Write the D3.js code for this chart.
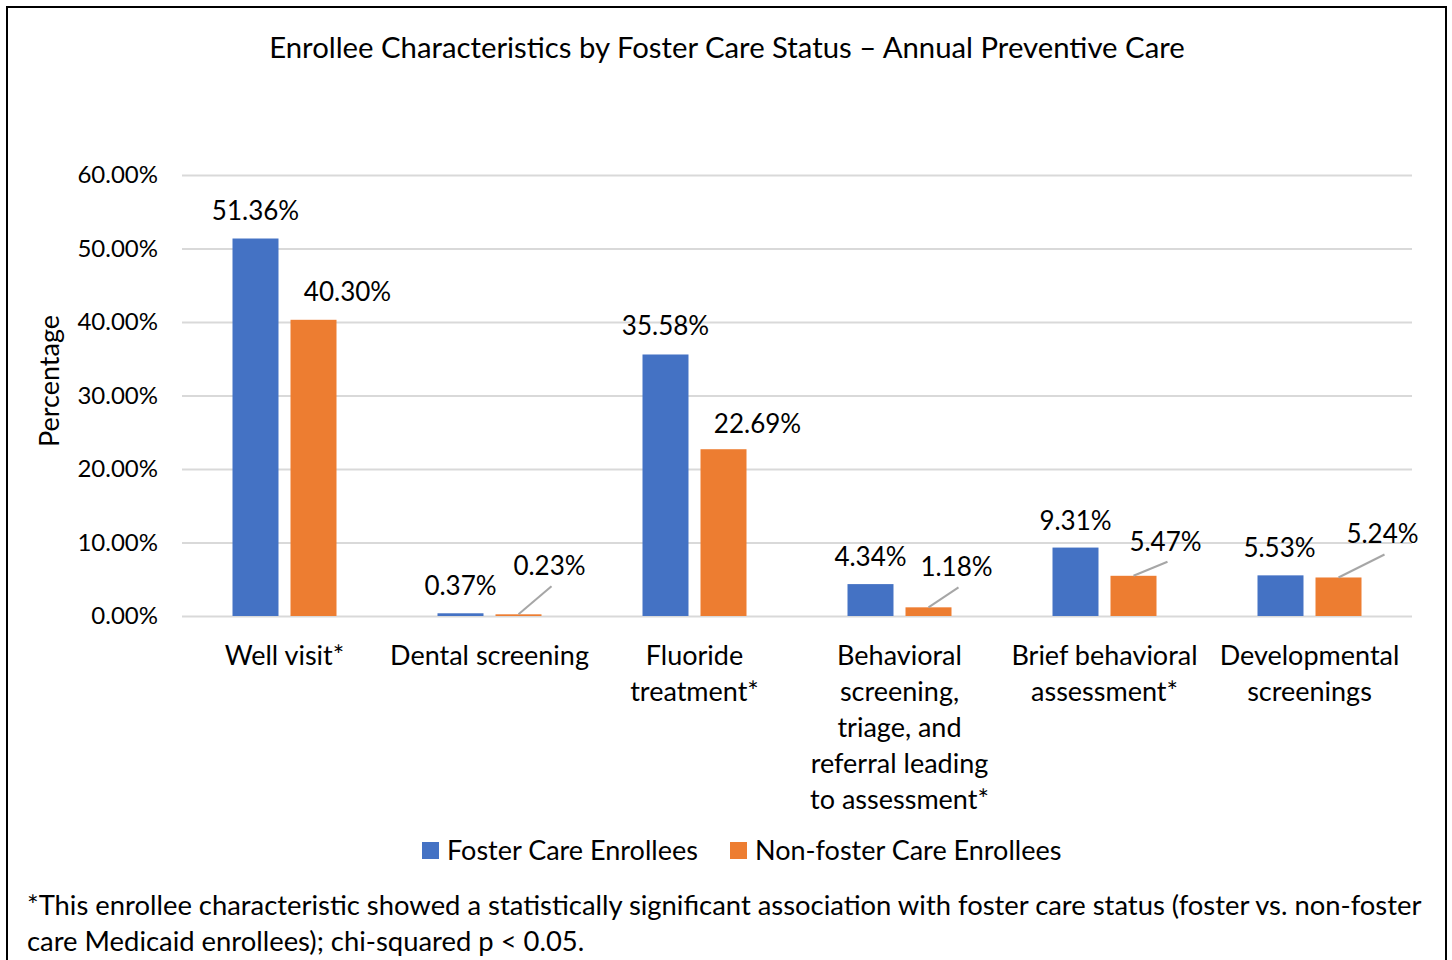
<!DOCTYPE html>
<html>
<head>
<meta charset="utf-8">
<script src="https://cdn.jsdelivr.net/npm/d3@7"></script>
<style>
  body { margin: 0; background: #fff; }
  svg { display: block; font-family: Lato, "Open Sans", sans-serif; }
</style>
</head>
<body>
<div id="chart-container"></div>
<script>
// data

const categories = ["Well visit*", "Dental screening", "Fluoride treatment*",
  "Behavioral screening, triage, and referral leading to assessment*",
  "Brief behavioral assessment*", "Developmental screenings"];
const categoryLines = [
  ["Well visit*"],
  ["Dental screening"],
  ["Fluoride", "treatment*"],
  ["Behavioral", "screening,", "triage, and", "referral leading", "to assessment*"],
  ["Brief behavioral", "assessment*"],
  ["Developmental", "screenings"]
];
const seriesNames = ["Foster Care Enrollees", "Non-foster Care Enrollees"];
const fosterValues = [51.36, 0.37, 35.58, 4.34, 9.31, 5.53];
const nonFosterValues = [40.30, 0.23, 22.69, 1.18, 5.47, 5.24];
const yTicks = [0, 10, 20, 30, 40, 50, 60];

// label nudges (dx, dy from bar top), leader = draw line back to bar
const labelNudge = [
  [{ dx: 0, dy: -28 }, { dx: 34, dy: -28 }],
  [{ dx: 0, dy: -27 }, { dx: 31, dy: -48, leader: true }],
  [{ dx: 0, dy: -28 }, { dx: 34, dy: -25 }],
  [{ dx: 0, dy: -27 }, { dx: 28, dy: -40, leader: true }],
  [{ dx: 0, dy: -27 }, { dx: 32, dy: -34, leader: true }],
  [{ dx: -1, dy: -27 }, { dx: 44, dy: -43, leader: true }]
];

const colors = ["#4472C4", "#ED7D31"];

const W = 1452, H = 960;
const margin = { top: 175, right: 40, bottom: 344, left: 182 };
const width = W - margin.left - margin.right;
const height = H - margin.top - margin.bottom;

const svg = d3.select("#chart-container")
  .append("svg")
    .attr("width", W)
    .attr("height", H);

// outer border
svg.append("rect")
  .attr("x", 7).attr("y", 7)
  .attr("width", 1439).attr("height", 980)
  .attr("fill", "none")
  .attr("stroke", "#000")
  .attr("stroke-width", 2);

svg.append("text")
  .attr("x", 727).attr("y", 58)
  .attr("text-anchor", "middle")
  .attr("font-size", 29.3)
  .text("Enrollee Characteristics by Foster Care Status \u2013 Annual Preventive Care");

const g = svg.append("g")
  .attr("transform", `translate(${margin.left},${margin.top})`);

const x = d3.scaleBand()
  .domain(categories)
  .range([0, width]);

const xs = d3.scaleBand()
  .domain([0, 1])
  .range([x.bandwidth() / 2 - 52, x.bandwidth() / 2 + 52])
  .paddingInner(0.207);

const y = d3.scaleLinear()
  .domain([0, 60])
  .range([height, 0]);

// gridlines + y labels
const yAxis = g.append("g")
  .call(d3.axisLeft(y)
    .tickValues(yTicks)
    .tickSize(-width)
    .tickPadding(24)
    .tickFormat(d => d.toFixed(2) + "%"));
yAxis.select(".domain").remove();
yAxis.selectAll("line").attr("stroke", "#D9D9D9").attr("stroke-width", 2);
yAxis.selectAll("text")
  .attr("font-size", 24)
  .attr("font-family", "Lato, sans-serif")
  .attr("fill", "#000");

svg.append("text")
  .attr("transform", "translate(59,381) rotate(-90)")
  .attr("text-anchor", "middle")
  .attr("font-size", 27)
  .text("Percentage");

// bars
const rows = categories.map((c, i) => ({ c, i, vals: [fosterValues[i], nonFosterValues[i]] }));

const groups = g.selectAll(".grp")
  .data(rows)
  .join("g")
    .attr("transform", d => `translate(${x(d.c)},0)`);

groups.selectAll("rect")
  .data(d => d.vals.map((v, s) => ({ v, s, i: d.i })))
  .join("rect")
    .attr("x", d => xs(d.s))
    .attr("width", xs.bandwidth())
    .attr("y", d => y(d.v))
    .attr("height", d => height - y(d.v))
    .attr("fill", d => colors[d.s]);

// leader lines and labels
groups.each(function (d) {
  const grp = d3.select(this);
  d.vals.forEach((v, s) => {
    const nudge = labelNudge[d.i][s];
    const cx = xs(s) + xs.bandwidth() / 2;
    const top = y(v);
    const lx = cx + nudge.dx, ly = top + nudge.dy;
    if (nudge.leader) {
      grp.append("line")
        .attr("x1", cx).attr("y1", top)
        .attr("x2", lx + 2).attr("y2", ly + 20)
        .attr("stroke", "#A6A6A6")
        .attr("stroke-width", 2);
    }
    grp.append("text")
      .attr("x", lx).attr("y", ly + 9)
      .attr("text-anchor", "middle")
      .attr("font-size", 26)
      .text(v.toFixed(2) + "%");
  });
});

// category labels
groups.each(function (d) {
  const t = d3.select(this).append("text")
    .attr("text-anchor", "middle")
    .attr("font-size", 27);
  categoryLines[d.i].forEach((line, k) => {
    t.append("tspan")
      .attr("x", x.bandwidth() / 2)
      .attr("y", height + 49 + k * 36)
      .text(line);
  });
});

// legend
const legend = svg.append("g").attr("transform", "translate(0,850)");
const legendX = [422, 730];
seriesNames.forEach((name, s) => {
  legend.append("rect")
    .attr("x", legendX[s]).attr("y", -8)
    .attr("width", 17).attr("height", 17)
    .attr("fill", colors[s]);
  legend.append("text")
    .attr("x", legendX[s] + 25).attr("y", 10)
    .attr("font-size", 27)
    .text(name);
});

// footnote
const note = svg.append("text").attr("font-size", 27.4);
note.append("tspan").attr("x", 27).attr("y", 915)
  .text("*This enrollee characteristic showed a statistically significant association with foster care status (foster vs. non-foster");
note.append("tspan").attr("x", 27).attr("y", 951)
  .text("care Medicaid enrollees); chi-squared p < 0.05.");
</script>
</body>
</html>
